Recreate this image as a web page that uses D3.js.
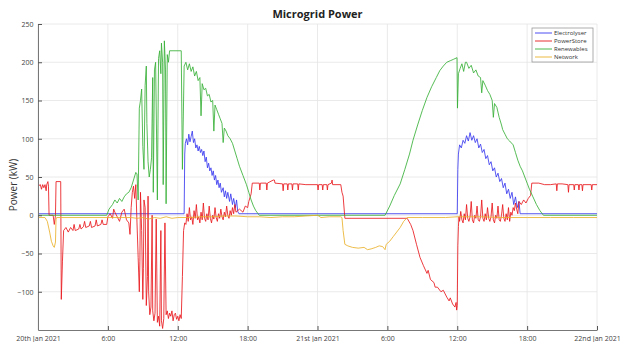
<!DOCTYPE html>
<html>
<head>
<meta charset="utf-8">
<script src="https://cdn.jsdelivr.net/npm/d3@7"></script>
<style>
  body { margin: 0; background: #fff; }
  text { font-family: "Open Sans", sans-serif; }
</style>
</head>
<body>
<div id="svg-area"></div>
<script>
// time in hours from 20th Jan 2021 00:00, power in kW
var electrolyser = [[0,2],[12.55,2],[12.6,80],[12.65,94],[12.75,100],[12.85,92],[12.95,106],[13.05,96],[13.15,103],[13.25,110],[13.35,95],[13.45,100],[13.55,88],[13.65,92],[13.75,84],[13.85,90],[13.95,82],[14.05,86],[14.15,78],[14.25,84],[14.35,70],[14.45,76],[14.55,62],[14.65,68],[14.75,58],[14.85,62],[14.95,52],[15.05,58],[15.15,46],[15.25,52],[15.35,40],[15.45,46],[15.55,36],[15.65,42],[15.75,30],[15.9,36],[16.0,24],[16.1,32],[16.2,22],[16.3,30],[16.45,18],[16.55,28],[16.7,14],[16.8,22],[16.95,10],[17.05,20],[17.15,5],[17.25,2],
  [36.0,2],[36.05,60],[36.1,80],[36.2,92],[36.35,88],[36.5,98],[36.65,94],[36.8,104],[36.95,97],[37.1,108],[37.25,98],[37.4,104],[37.55,95],[37.7,100],[37.85,88],[38.0,93],[38.15,82],[38.3,86],[38.45,74],[38.6,78],[38.75,66],[38.9,70],[39.05,58],[39.2,62],[39.35,50],[39.5,55],[39.65,44],[39.8,48],[39.95,36],[40.1,42],[40.25,28],[40.4,34],[40.55,22],[40.7,30],[40.85,14],[41.0,24],[41.15,10],[41.3,18],[41.4,2],[48,2]];

var powerStore = [[0,38],[0.2,40],[0.3,34],[0.4,40],[0.5,36],[0.6,40],[0.7,32],[0.75,40],[0.85,44],[0.9,38],[0.95,0],[1.3,0],[1.4,-12],[1.5,0],[1.55,44],[1.95,44],[2.0,-110],[2.1,-60],[2.2,-20],[2.4,-16],[2.6,-22],[2.8,-16],[3.0,-20],[3.1,-12],[3.2,-20],[3.5,-18],[3.6,-12],[3.7,-18],[3.9,-15],[4.0,-8],[4.1,-16],[4.4,-14],[4.5,-8],[4.6,-16],[4.9,-14],[5.0,-6],[5.1,-14],[5.4,-12],[5.5,-6],[5.6,-12],[5.9,-12],[6.0,-2],[6.2,2],[6.4,-4],[6.5,8],[6.6,4],[6.8,-2],[7.0,-8],[7.2,4],[7.4,8],[7.6,-6],[7.8,-10],[7.9,-25],[8.0,10],[8.1,30],[8.2,38],[8.3,22],[8.4,40],[8.5,-10],[8.6,-55],[8.7,-100],[8.75,-60],[8.8,30],[8.9,-20],[9.0,-110],[9.05,-70],[9.1,20],[9.2,10],[9.3,-118],[9.4,-80],[9.45,25],[9.5,-100],[9.6,-130],[9.7,-120],[9.8,0],[9.85,-125],[9.95,-138],[10.05,-128],[10.15,-5],[10.25,-140],[10.35,-132],[10.45,-145],[10.55,-20],[10.6,-138],[10.7,-148],[10.8,-135],[10.9,-10],[11.0,-130],[11.1,-125],[11.2,-135],[11.3,-128],[11.4,-132],[11.5,-125],[11.6,-138],[11.7,-130],[11.8,-128],[11.9,-136],[12.0,-132],[12.1,-138],[12.2,-130],[12.3,-135],[12.4,-80],[12.5,-20],[12.6,-10],
  [12.7,-12],[12.8,2],[12.9,-8],[13.0,10],[13.1,-6],[13.2,-2],[13.3,-12],[13.4,6],[13.5,-4],[13.6,14],[13.7,-6],[13.8,-2],[13.9,-10],[14.0,4],[14.1,-6],[14.2,16],[14.3,-4],[14.4,-8],[14.5,2],[14.6,-6],[14.7,12],[14.8,-4],[14.9,-10],[15.0,0],[15.1,-5],[15.2,10],[15.3,-3],[15.4,-8],[15.5,2],[15.6,-4],[15.7,8],[15.8,-2],[15.9,-6],[16.0,4],[16.1,-2],[16.2,12],[16.3,0],[16.4,-4],[16.5,6],[16.6,0],[16.7,10],[16.8,2],[16.9,14],[17.0,4],[17.3,8],[17.6,4],[17.8,12],[18.0,10],[18.1,18],[18.3,28],[18.4,42],
  [19.0,42],[19.05,33],[19.1,42],[19.6,42],[19.65,33],[19.7,42],[20.2,46],[20.3,46],[20.35,42],[21.0,41],[21.05,32],[21.1,41],[21.4,41],[21.45,33],[21.5,41],[21.8,41],[21.85,33],[21.9,41],[22.3,41],[22.35,33],[22.4,41],[23.0,40],[24.0,40],[24.05,33],[24.1,40],[24.4,40],[24.45,33],[24.5,40],[24.8,40],[24.85,33],[24.9,40],[25.2,42],[25.25,46],[25.3,40],[26.0,40],[26.1,30],[26.2,25],[26.35,-4],
  [31.7,-4],[32.0,-12],[32.2,-20],[32.5,-38],[32.8,-55],[33.1,-66],[33.4,-76],[33.5,-72],[33.7,-84],[34.0,-88],[34.1,-94],[34.3,-94],[34.6,-100],[34.8,-98],[35.1,-107],[35.3,-112],[35.4,-108],[35.6,-116],[35.8,-120],[35.9,-114],[35.95,-124],[36.0,-118],[36.05,-40],[36.1,-15],[36.15,-2],
  [36.2,-8],[36.3,5],[36.4,-6],[36.5,-10],[36.6,2],[36.7,-6],[36.8,14],[36.9,-4],[37.0,-8],[37.1,-2],[37.2,18],[37.3,-6],[37.4,-10],[37.5,0],[37.6,-4],[37.7,12],[37.8,-6],[37.9,-8],[38.0,-2],[38.1,20],[38.2,-4],[38.3,-8],[38.4,2],[38.5,-6],[38.6,10],[38.7,-4],[38.8,-8],[38.9,-2],[39.0,16],[39.1,-6],[39.2,-10],[39.3,0],[39.4,-4],[39.5,12],[39.6,-6],[39.7,-8],[39.8,0],[39.9,14],[40.0,-4],[40.1,-8],[40.2,2],[40.3,-6],[40.4,10],[40.5,-8],[40.6,4],[40.7,0],[40.8,10],[40.9,6],[41.0,16],[41.1,8],[41.2,2],[41.3,18],[41.5,14],[41.7,20],[41.9,16],[42.1,22],[42.3,26],[42.4,42],
  [43.0,42],[43.5,40],[44.0,40],[44.5,41],[44.55,32],[44.6,41],[45.0,41],[45.5,40],[45.55,30],[45.6,40],[46.0,40],[46.05,33],[46.1,40],[46.4,40],[46.45,33],[46.5,40],[46.7,40],[46.75,32],[46.8,40],[47.5,40],[47.55,33],[47.6,40],[48,40]];

var renewables = [[0,0],[5.9,0],[6.1,8],[6.4,14],[6.6,20],[6.8,16],[7.0,22],[7.2,18],[7.4,24],[7.6,28],[7.8,30],[8.0,36],[8.2,46],[8.4,56],[8.5,54],[8.6,20],[8.7,140],[8.8,150],[8.9,165],[9.0,90],[9.1,60],[9.2,170],[9.3,195],[9.35,120],[9.45,70],[9.55,50],[9.65,60],[9.75,75],[9.85,180],[9.9,30],[10.0,190],[10.1,200],[10.2,80],[10.25,20],[10.35,205],[10.45,215],[10.55,185],[10.6,225],[10.7,200],[10.75,40],[10.85,228],[10.95,190],[11.0,15],[11.1,210],[11.2,200],[11.3,215],[12.3,215],[12.4,60],[12.55,195],[12.7,200],[12.85,190],[13.0,198],[13.15,188],[13.3,194],[13.45,182],[13.6,188],[13.75,176],[13.9,180],[14.0,130],[14.1,172],[14.25,164],[14.4,166],[14.55,156],[14.7,158],[14.85,148],[15.0,150],[15.1,110],[15.2,144],[15.35,138],[15.5,132],[15.65,126],[15.8,120],[15.9,95],[16.0,114],[16.15,110],[16.3,104],[16.5,100],[16.7,94],[16.9,84],[17.1,74],[17.3,64],[17.6,52],[17.9,40],[18.1,30],[18.3,20],[18.5,12],[18.7,6],[18.9,2],[19.0,0],
  [29.8,0],[30.2,12],[30.6,26],[31.1,41],[31.5,60],[31.9,80],[32.2,98],[32.6,118],[33.0,137],[33.4,154],[33.8,168],[34.2,180],[34.5,189],[34.8,195],[35.1,200],[35.4,202],[35.7,204],[35.98,206],[36.02,140],[36.1,185],[36.25,192],[36.4,198],[36.55,188],[36.7,200],[36.8,200],[37.0,192],[37.2,196],[37.4,186],[37.6,190],[37.8,182],[38.0,180],[38.1,160],[38.2,176],[38.4,170],[38.6,163],[38.8,158],[39.0,150],[39.1,128],[39.2,146],[39.4,141],[39.6,128],[39.8,118],[39.9,112],[40.1,106],[40.3,100],[40.5,97],[40.8,92],[41.0,82],[41.2,72],[41.4,64],[41.6,58],[41.8,50],[42.0,42],[42.2,34],[42.5,24],[42.8,14],[43.1,6],[43.4,0],[48,0]];

var network = [[0,-3],[0.6,-3],[0.8,-8],[1.0,-22],[1.15,-34],[1.3,-40],[1.4,-42],[1.5,-35],[1.55,-5],[1.6,-3],[8.0,-3],[8.5,-4],[9.0,-3],[9.5,-5],[10.0,-3],[10.5,-4],[11.0,-2],[11.5,-4],[12.0,-3],[13.0,-3],[14,-2],[15,-2],[16,-1],[17,-1],[18,-2],[19,-2],[20,-3],[21,-2],[22,-2],[23,-1],[24,0],[24.3,-3],[25,-2],[26,-2],[26.1,-3],[26.2,-20],[26.35,-38],[26.6,-40],[27.0,-42],[27.5,-43],[28.0,-42],[28.3,-45],[28.6,-44],[29.0,-42],[29.3,-40],[29.6,-41],[29.8,-45],[29.9,-38],[30.2,-34],[30.5,-28],[30.8,-22],[31.1,-16],[31.4,-8],[31.7,-3],[33,-3],[35,-3],[36,-2],[38,-2],[40,-3],[42,-3],[44,-3],[46,-3],[48,-3]];

var seriesNames = ['Electrolyser', 'PowerStore', 'Renewables', 'Network'];
var seriesColors = ['#3a3af0', '#e8191e', '#38b038', '#eab12a'];
var allSeries = [electrolyser, powerStore, renewables, network];

var xTicks = [0, 6, 12, 18, 24, 30, 36, 42, 48];
var xTickLabels = ['20th Jan 2021', '6:00', '12:00', '18:00', '21st Jan 2021', '6:00', '12:00', '18:00', '22nd Jan 2021'];
var yTicks = [-100, -50, 0, 50, 100, 150, 200, 250];

var svgWidth = 621
var svgHeight = 342
var plotLeft = 38, plotRight = 597, plotTop = 24, plotBottom = 330

var svg = d3.select('#svg-area')
    .append('svg')
    .attr('width', svgWidth)
    .attr('height', svgHeight)

var x = d3.scaleLinear().domain([0, 48]).range([plotLeft, plotRight])
var y = d3.scaleLinear().domain([-150, 250]).range([plotBottom, plotTop])

// grid
svg.append('g')
    .selectAll('line')
    .data(yTicks)
    .enter()
    .append('line')
    .attr('x1', plotLeft).attr('x2', plotRight)
    .attr('y1', function(d) { return y(d) }).attr('y2', function(d) { return y(d) })
    .attr('stroke', '#e4e4e4').attr('stroke-width', 0.8)

svg.append('g')
    .selectAll('line')
    .data(xTicks)
    .enter()
    .append('line')
    .attr('x1', function(d) { return x(d) }).attr('x2', function(d) { return x(d) })
    .attr('y1', plotTop).attr('y2', plotBottom)
    .attr('stroke', '#e4e4e4').attr('stroke-width', 0.8)

// series
var line = d3.line()
    .x(function(d) { return x(d[0]) })
    .y(function(d) { return y(d[1]) })

svg.append('g')
    .selectAll('path')
    .data(allSeries)
    .enter()
    .append('path')
    .attr('d', line)
    .attr('fill', 'none')
    .attr('stroke', function(d, i) { return seriesColors[i] })
    .attr('stroke-width', 0.85)

// axes (ticks pointing inwards)
var xAxis = svg.append('g')
    .attr('transform', 'translate(0,' + plotBottom + ')')
    .call(d3.axisBottom(x).tickValues(xTicks).tickSizeInner(-4).tickSizeOuter(0)
        .tickFormat(function(d, i) { return xTickLabels[i] }))
xAxis.selectAll('text').attr('dy', '1.15em')

var yAxis = svg.append('g')
    .attr('transform', 'translate(' + plotLeft + ',0)')
    .call(d3.axisLeft(y).tickValues(yTicks).tickSizeInner(-4).tickSizeOuter(0))
yAxis.selectAll('text').attr('dx', '-0.2em')

svg.selectAll('.domain').attr('stroke', '#777')
svg.selectAll('.tick line').attr('stroke', '#555')
svg.selectAll('.tick text').attr('fill', '#444').style('font-size', '7px').style('font-family', '"Open Sans", sans-serif')

// title + axis label
svg.append('text')
    .attr('x', (plotLeft + plotRight) / 2)
    .attr('y', 18)
    .attr('text-anchor', 'middle')
    .style('font-size', '11px')
    .style('font-weight', 'bold')
    .attr('fill', '#222')
    .text('Microgrid Power')

svg.append('text')
    .attr('transform', 'translate(17,' + ((plotTop + plotBottom) / 2 + 8) + ') rotate(-90)')
    .attr('text-anchor', 'middle')
    .style('font-size', '10px')
    .attr('fill', '#333')
    .text('Power (kW)')

// legend
var legend = svg.append('g').attr('transform', 'translate(532,28)')
legend.append('rect')
    .attr('width', 61).attr('height', 34)
    .attr('fill', '#fff').attr('stroke', '#999').attr('stroke-width', 0.8)

var items = legend.selectAll('g.item')
    .data(seriesNames)
    .enter()
    .append('g')
    .attr('transform', function(d, i) { return 'translate(0,' + (5 + i * 8) + ')' })

items.append('line')
    .attr('x1', 3).attr('x2', 20)
    .attr('stroke', function(d, i) { return seriesColors[i] })
    .attr('stroke-width', 0.9)

items.append('text')
    .attr('x', 22).attr('y', 2.2)
    .style('font-size', '6px')
    .attr('fill', '#333')
    .text(function(d) { return d })
</script>
</body>
</html>
